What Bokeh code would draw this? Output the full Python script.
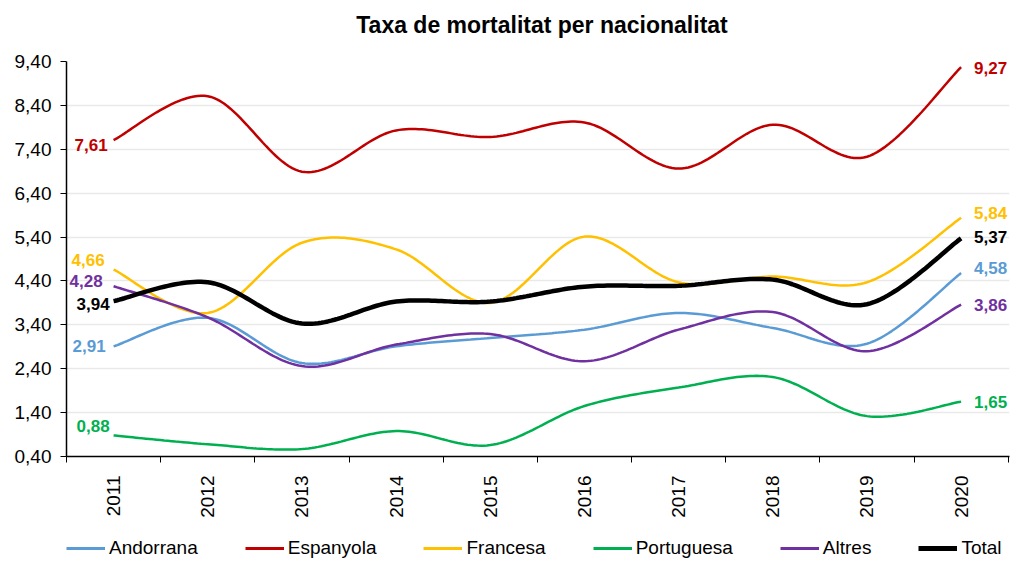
import numpy as np
from bokeh.plotting import figure
from bokeh.layouts import column
from bokeh.models import (FixedTicker, CustomJSTickFormatter, Legend, LegendItem,
                          Label, Range1d)
from bokeh.embed import file_html
from bokeh.resources import INLINE

# ---------------- data ----------------
years = [2011, 2012, 2013, 2014, 2015, 2016, 2017, 2018, 2019, 2020]
andorrana = [2.91, 3.56, 2.53, 2.91, 3.10, 3.29, 3.67, 3.33, 2.97, 4.58]
espanyola = [7.61, 8.61, 6.89, 7.83, 7.68, 8.01, 6.96, 7.96, 7.23, 9.27]
francesa = [4.66, 3.67, 5.27, 5.12, 3.90, 5.41, 4.37, 4.50, 4.37, 5.84]
portuguesa = [0.88, 0.68, 0.57, 0.98, 0.66, 1.55, 1.97, 2.21, 1.32, 1.65]
altres = [4.28, 3.57, 2.46, 2.95, 3.19, 2.57, 3.29, 3.69, 2.80, 3.86]
total = [3.94, 4.37, 3.43, 3.93, 3.93, 4.27, 4.29, 4.43, 3.87, 5.37]
series_names = ["Andorrana", "Espanyola", "Francesa", "Portuguesa", "Altres", "Total"]
y_ticks = [0.4, 1.4, 2.4, 3.4, 4.4, 5.4, 6.4, 7.4, 8.4, 9.4]
title_text = "Taxa de mortalitat per nacionalitat"

# ---------------- styles ----------------
colors = ["#5B9BD5", "#C00000", "#FFC000", "#00B050", "#7030A0", "#000000"]
widths = [2.5, 2.5, 2.5, 2.5, 2.5, 4.5]
# label offsets in pixels: (left dx of right edge, left dy down, right dx of left edge, right dy down)
label_offsets = {
    "Andorrana": (-8, 0, 13, -5),
    "Espanyola": (-6, 5, 13, 1),
    "Francesa": (-9, -10, 13, -5),
    "Portuguesa": (-4, -9, 13, 0),
    "Altres": (-11, -5, 13, 0),
    "Total": (-4, 3, 13, -1),
}

FONT = "Liberation Sans"
W = 1015
LEFT, RIGHT = 66, 6


def smooth(xs, ys, n=30):
    """Excel-like smoothed line (Catmull-Rom Bezier) through the data points."""
    P = np.column_stack([np.asarray(xs, float), np.asarray(ys, float)])
    m = len(P)
    out = []
    t = np.linspace(0, 1, n)[:, None]
    for i in range(m - 1):
        p0 = P[i - 1] if i > 0 else P[i]
        p1 = P[i]
        p2 = P[i + 1]
        p3 = P[i + 2] if i + 2 < m else P[i + 1]
        c1 = p1 + (p2 - p0) / 6.0
        c2 = p2 - (p3 - p1) / 6.0
        seg = ((1 - t) ** 3) * p1 + 3 * ((1 - t) ** 2) * t * c1 + 3 * (1 - t) * t ** 2 * c2 + t ** 3 * p2
        if i > 0:
            seg = seg[1:]
        out.append(seg)
    out = np.vstack(out)
    return out[:, 0], out[:, 1]


# ---------------- title strip (its frame is aligned with the chart's frame) ----------------
pt = figure(width=W, height=40, x_range=Range1d(LEFT, W - RIGHT), y_range=Range1d(0, 40),
            output_backend="svg", toolbar_location=None,
            x_axis_location=None, y_axis_location=None,
            min_border_left=LEFT, min_border_right=RIGHT, min_border_top=0, min_border_bottom=0)
pt.grid.visible = False
pt.outline_line_color = None
pt.add_layout(Label(x=541.5, y=16, text=title_text,
                    text_align="center", text_baseline="middle",
                    text_font=FONT, text_font_size="23px", text_font_style="bold",
                    text_color="black"))

# ---------------- main chart ----------------
p = figure(width=W, height=480,
           x_range=Range1d(2010.5, 2020.514), y_range=Range1d(0.4, 9.4),
           output_backend="svg", toolbar_location=None,
           min_border_left=LEFT, min_border_right=RIGHT, min_border_top=21, min_border_bottom=62)
p.outline_line_color = None
p.background_fill_color = "white"

p.xaxis.ticker = FixedTicker(ticks=years, minor_ticks=[y - 0.5 for y in years] + [years[-1] + 0.5])
p.xaxis.major_label_orientation = np.pi / 2
p.xaxis.major_tick_line_color = None
p.xaxis.major_tick_out = 0
p.xaxis.major_tick_in = 0
p.xaxis.minor_tick_line_color = "black"
p.xaxis.minor_tick_out = 6
p.xaxis.minor_tick_in = 0
p.xaxis.major_label_standoff = 13
p.xaxis.major_label_text_font = FONT
p.xaxis.major_label_text_font_size = "19px"
p.xaxis.major_label_text_color = "black"
p.xaxis.axis_line_color = "black"
p.xaxis.axis_line_width = 1.5

p.yaxis.ticker = FixedTicker(ticks=y_ticks)
p.yaxis.formatter = CustomJSTickFormatter(code="return tick.toFixed(2).replace('.', ',');")
p.yaxis.major_tick_out = 6
p.yaxis.major_tick_in = 0
p.yaxis.minor_tick_line_color = None
p.yaxis.major_label_standoff = 9
p.yaxis.major_label_text_font = FONT
p.yaxis.major_label_text_font_size = "19px"
p.yaxis.major_label_text_color = "black"
p.yaxis.axis_line_color = "black"
p.yaxis.axis_line_width = 1.5

p.xgrid.grid_line_color = None
p.ygrid.grid_line_color = "#e9e9e9"
p.ygrid.grid_line_width = 1.5

# ---------------- legend strip ----------------
pl = figure(width=W, height=40, x_range=Range1d(0, 1), y_range=Range1d(0, 1),
            output_backend="svg", toolbar_location=None,
            x_axis_location=None, y_axis_location=None,
            min_border_left=LEFT, min_border_right=RIGHT, min_border_top=0, min_border_bottom=0)
pl.grid.visible = False
pl.outline_line_color = None

all_series = [andorrana, espanyola, francesa, portuguesa, altres, total]
items = []
for name, vals, col, w in zip(series_names, all_series, colors, widths):
    sx, sy = smooth(years, vals)
    p.line(sx, sy, line_color=col, line_width=w)
    # legend sample line: same style, placed outside the strip's visible range
    lr = pl.line(x=[-5, -4], y=[-5, -4], line_color=col, line_width=w + 0.5)
    items.append(LegendItem(label=name, renderers=[lr]))
    ldx, ldy, rdx, rdy = label_offsets[name]
    p.add_layout(Label(x=years[0], y=vals[0], x_offset=ldx, y_offset=-ldy,
                       text=f"{vals[0]:.2f}".replace(".", ","),
                       text_align="right", text_baseline="middle",
                       text_font=FONT, text_font_size="17px", text_font_style="bold",
                       text_color=col))
    p.add_layout(Label(x=years[-1], y=vals[-1], x_offset=rdx, y_offset=-rdy,
                       text=f"{vals[-1]:.2f}".replace(".", ","),
                       text_align="left", text_baseline="middle",
                       text_font=FONT, text_font_size="17px", text_font_style="bold",
                       text_color=col))

legend = Legend(items=items, orientation="horizontal", location=(0, 1),
                glyph_width=39, glyph_height=20, label_standoff=4, spacing=47,
                padding=0, margin=0, border_line_color=None, background_fill_alpha=0,
                label_text_font=FONT, label_text_font_size="19px", label_text_color="black")
pl.add_layout(legend)

layout = column(pt, p, pl, spacing=0)
open("out.html", "w").write(file_html(layout, INLINE))
